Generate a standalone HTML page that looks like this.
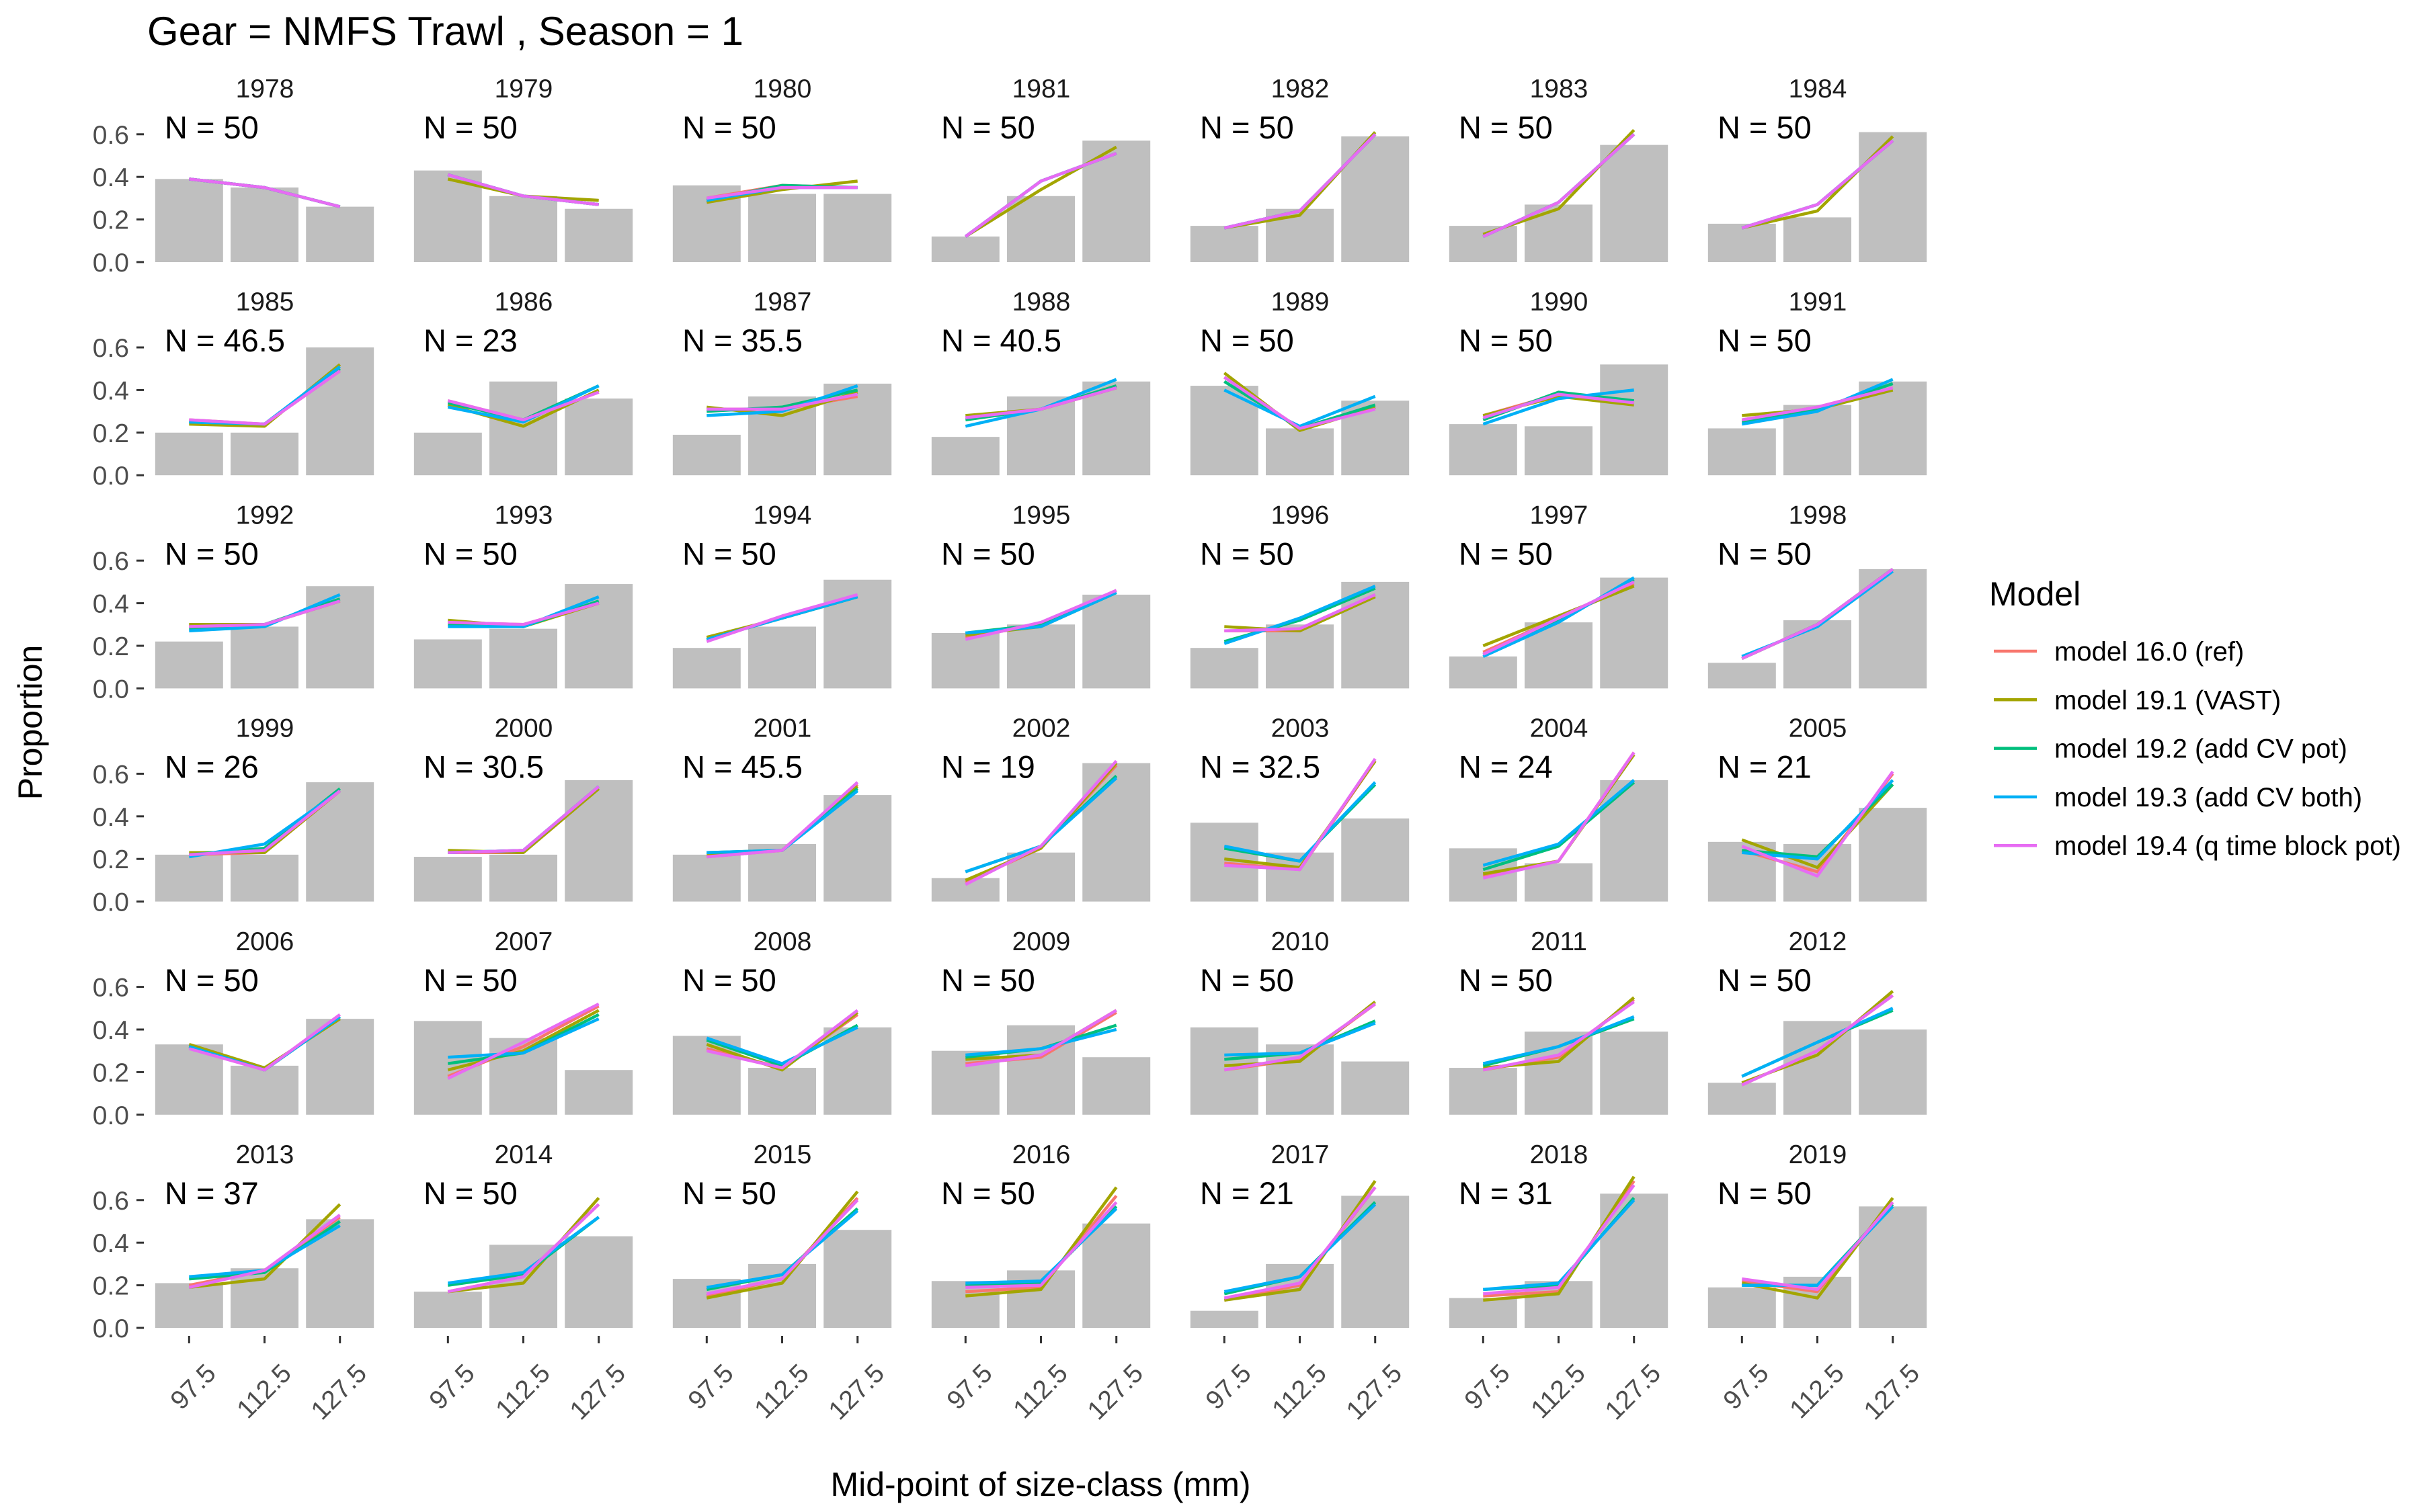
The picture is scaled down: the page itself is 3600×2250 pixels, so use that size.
<!DOCTYPE html>
<html><head><meta charset="utf-8"><style>
html,body{margin:0;padding:0;background:#fff;}
svg{display:block;font-family:"Liberation Sans",Arial,sans-serif;}
</style></head><body>
<svg id="chart" width="3600" height="2250" viewBox="0 0 3600 2250" xmlns="http://www.w3.org/2000/svg">
<rect x="0" y="0" width="3600" height="2250" fill="#fff"/>
<text x="219" y="67" font-size="60" fill="#000">Gear = NMFS Trawl , Season = 1</text>
<text transform="translate(62,1075) rotate(-90)" text-anchor="middle" font-size="50" fill="#000">Proportion</text>
<text x="1548" y="2226" text-anchor="middle" font-size="50" fill="#000">Mid-point of size-class (mm)</text>
<g id="panels"></g>
<g id="legend">
<text x="2959" y="901" font-size="50" fill="#000">Model</text>
</g>
</svg>
<script>
const years = [1978,1979,1980,1981,1982,1983,1984,1985,1986,1987,1988,1989,1990,1991,1992,1993,1994,1995,1996,1997,1998,1999,2000,2001,2002,2003,2004,2005,2006,2007,2008,2009,2010,2011,2012,2013,2014,2015,2016,2017,2018,2019];
const nLabels = ["50","50","50","50","50","50","50","46.5","23","35.5","40.5","50","50","50","50","50","50","50","50","50","50","26","30.5","45.5","19","32.5","24","21","50","50","50","50","50","50","50","37","50","50","50","21","31","50"];
const categories = ["97.5","112.5","127.5"];
const yTicks = [0,0.2,0.4,0.6];
const yTickLabels = ["0.0","0.2","0.4","0.6"];
const modelNames = ["model 16.0 (ref)","model 19.1 (VAST)","model 19.2 (add CV pot)","model 19.3 (add CV both)","model 19.4 (q time block pot)"];
const modelColors = ["#F8766D","#A3A500","#00BF7D","#00B0F6","#E76BF3"];
const observed = [
[.39,.35,.26],[.43,.31,.25],[.36,.32,.32],[.12,.31,.57],[.17,.25,.59],[.17,.27,.55],[.18,.21,.61],
[.20,.20,.60],[.20,.44,.36],[.19,.37,.43],[.18,.37,.44],[.42,.22,.35],[.24,.23,.52],[.22,.33,.44],
[.22,.29,.48],[.23,.28,.49],[.19,.29,.51],[.26,.30,.44],[.19,.30,.50],[.15,.31,.52],[.12,.32,.56],
[.22,.22,.56],[.21,.22,.57],[.22,.27,.50],[.11,.23,.65],[.37,.23,.39],[.25,.18,.57],[.28,.27,.44],
[.33,.23,.45],[.44,.36,.21],[.37,.22,.41],[.30,.42,.27],[.41,.33,.25],[.22,.39,.39],[.15,.44,.40],
[.21,.28,.51],[.17,.39,.43],[.23,.30,.46],[.22,.27,.49],[.08,.30,.62],[.14,.22,.63],[.19,.24,.57]];
const model160 = [
[.39,.35,.26],[.41,.31,.27],[.30,.36,.35],[.12,.38,.51],[.16,.24,.60],[.12,.28,.60],[.16,.27,.57],
[.26,.24,.49],[.35,.26,.39],[.31,.31,.37],[.27,.31,.41],[.46,.22,.32],[.28,.38,.34],[.26,.32,.41],
[.29,.30,.41],[.31,.30,.40],[.23,.33,.43],[.24,.30,.46],[.27,.27,.44],[.17,.33,.49],[.14,.30,.56],
[.22,.23,.52],[.23,.23,.53],[.21,.24,.55],[.09,.25,.64],[.18,.15,.66],[.12,.19,.70],[.24,.14,.60],
[.32,.21,.46],[.18,.32,.51],[.31,.22,.47],[.24,.27,.48],[.21,.26,.52],[.21,.27,.54],[.14,.30,.56],
[.20,.27,.52],[.17,.24,.58],[.15,.23,.61],[.17,.19,.62],[.13,.20,.66],[.15,.17,.69],[.22,.17,.59]];
const model191 = [
[.39,.35,.26],[.39,.31,.29],[.28,.34,.38],[.12,.34,.54],[.16,.22,.61],[.13,.25,.62],[.16,.24,.59],
[.24,.23,.52],[.33,.23,.40],[.32,.28,.39],[.28,.31,.41],[.48,.21,.32],[.28,.37,.33],[.28,.31,.40],
[.30,.30,.41],[.32,.29,.40],[.24,.33,.43],[.25,.29,.45],[.29,.27,.43],[.20,.34,.48],[.14,.30,.56],
[.23,.23,.52],[.24,.23,.53],[.22,.24,.54],[.10,.25,.65],[.20,.16,.66],[.13,.19,.69],[.29,.16,.55],
[.33,.22,.45],[.21,.30,.49],[.33,.21,.48],[.26,.28,.49],[.23,.25,.53],[.22,.25,.55],[.15,.28,.58],
[.19,.23,.58],[.17,.21,.61],[.14,.21,.64],[.15,.18,.66],[.13,.18,.69],[.13,.16,.71],[.21,.14,.61]];
const model192 = [
[.39,.35,.26],[.41,.31,.27],[.29,.36,.35],[.12,.38,.51],[.16,.24,.60],[.12,.28,.60],[.16,.27,.57],
[.25,.24,.50],[.34,.26,.42],[.30,.32,.40],[.26,.31,.42],[.44,.22,.33],[.26,.39,.35],[.25,.31,.43],
[.28,.30,.42],[.30,.29,.41],[.23,.33,.43],[.26,.30,.45],[.22,.32,.47],[.16,.32,.51],[.14,.30,.56],
[.22,.25,.53],[.23,.24,.54],[.23,.24,.53],[.14,.26,.59],[.25,.19,.55],[.15,.26,.56],[.24,.21,.55],
[.32,.21,.46],[.24,.29,.47],[.35,.23,.42],[.27,.31,.42],[.26,.29,.44],[.23,.32,.45],[.18,.34,.49],
[.23,.26,.50],[.20,.25,.52],[.18,.25,.56],[.20,.21,.57],[.16,.24,.59],[.18,.20,.61],[.20,.20,.58]];
const model193 = [
[.39,.35,.26],[.41,.31,.27],[.29,.35,.35],[.12,.38,.51],[.16,.24,.60],[.12,.28,.60],[.16,.27,.57],
[.25,.24,.51],[.32,.25,.42],[.28,.30,.42],[.23,.31,.45],[.40,.23,.37],[.24,.36,.40],[.24,.30,.45],
[.27,.29,.44],[.29,.29,.43],[.23,.33,.43],[.26,.29,.45],[.21,.33,.48],[.15,.31,.52],[.15,.29,.55],
[.21,.27,.52],[.23,.24,.54],[.23,.24,.52],[.14,.26,.58],[.26,.19,.56],[.17,.27,.57],[.23,.20,.57],
[.32,.21,.46],[.27,.29,.45],[.36,.24,.41],[.28,.31,.40],[.28,.29,.43],[.24,.32,.46],[.18,.34,.50],
[.24,.27,.48],[.21,.26,.52],[.19,.25,.55],[.21,.22,.56],[.17,.24,.58],[.18,.21,.60],[.20,.20,.57]];
const model194 = [
[.39,.35,.26],[.41,.31,.27],[.30,.35,.35],[.12,.38,.51],[.16,.24,.60],[.12,.28,.60],[.16,.27,.57],
[.26,.24,.49],[.35,.26,.39],[.31,.31,.38],[.27,.31,.41],[.46,.22,.31],[.27,.38,.34],[.26,.32,.41],
[.29,.30,.41],[.31,.30,.40],[.22,.34,.44],[.23,.31,.46],[.27,.28,.44],[.16,.33,.50],[.14,.30,.56],
[.22,.24,.52],[.23,.24,.54],[.21,.24,.56],[.08,.26,.66],[.17,.15,.67],[.11,.19,.70],[.26,.12,.61],
[.31,.21,.47],[.17,.34,.52],[.30,.22,.49],[.23,.28,.49],[.21,.27,.52],[.21,.28,.53],[.14,.30,.56],
[.19,.27,.53],[.17,.24,.58],[.16,.23,.60],[.19,.20,.59],[.14,.21,.66],[.16,.19,.67],[.23,.18,.59]];
const modelSeries = [model160, model191, model192, model193, model194];

const NS = "http://www.w3.org/2000/svg";
const panelsG = document.getElementById('panels');
const PANEL_LEFT = 214, PANEL_STEP = 385, UNIT = 112.2;
const ROW_ZERO = 390, ROW_STEP = 317.2, Y_UNIT = 317;
function xScale(col, k){ return PANEL_LEFT + col*PANEL_STEP + (k + 0.6)*UNIT; }
function yScale(row, v){ return ROW_ZERO + row*ROW_STEP - v*Y_UNIT; }
function mk(tag, attrs, parent){ const e = document.createElementNS(NS, tag); for (const k in attrs) e.setAttribute(k, attrs[k]); parent.appendChild(e); return e; }

years.forEach((yr, i) => {
  const row = Math.floor(i/7), col = i % 7;
  const g = mk('g', {}, panelsG);
  
  
  const pl = PANEL_LEFT + col*PANEL_STEP;
  const st = mk('text', {x: pl + 180, y: 145 + row*ROW_STEP, 'text-anchor':'middle', 'font-size':39, fill:'#1A1A1A'}, g);
  st.textContent = yr;
  
  
  const nl = mk('text', {x: pl + 31, y: 206 + row*ROW_STEP, 'font-size':47, fill:'#000'}, g);
  nl.textContent = 'N = ' + nLabels[i];
  
  
  if (col === 0) {
    yTicks.forEach((t, j) => {
      const yy = yScale(row, t);
      const tk = mk('line', {x1: 203, x2: 214, y1: yy, y2: yy, stroke:'#333', 'stroke-width':3}, g);
      
      
      const tl = mk('text', {x: 192, y: yy + 14, 'text-anchor':'end', 'font-size':39, fill:'#4D4D4D'}, g);
      tl.textContent = yTickLabels[j];
      
      
    });
  }
  observed[i].forEach((v, k) => {
    const cx = xScale(col, k);
    const b = mk('rect', {x: cx - 0.45*UNIT, y: yScale(row, v), width: 0.9*UNIT, height: v*Y_UNIT, fill:'#BFBFBF'}, g);
    
    
  });
  modelSeries.forEach((ser, m) => {
    const pts = ser[i].map((v, k) => xScale(col, k).toFixed(1) + ',' + yScale(row, v).toFixed(1)).join(' ');
    const pl2 = mk('polyline', {points: pts, fill:'none', stroke: modelColors[m], 'stroke-width':4.5, 'stroke-linejoin':'round'}, g);
    
    
  });
  if (row === 5) {
    categories.forEach((c, k) => {
      const cx = xScale(col, k);
      const tk = mk('line', {x1: cx, x2: cx, y1: 1988, y2: 1999, stroke:'#333', 'stroke-width':3}, g);
      
      
      const tl = mk('text', {transform: 'translate(' + (cx + 42) + ',2046) rotate(-45)', 'text-anchor':'end', 'font-size':39, fill:'#4D4D4D'}, g);
      tl.textContent = c;
      
      
    });
  }
});

const legendG = document.getElementById('legend');
modelNames.forEach((name, m) => {
  const y = 969 + m*72.3;
  const g = mk('g', {}, legendG);
  
  
  const ln = mk('line', {x1: 2966, x2: 3030, y1: y, y2: y, stroke: modelColors[m], 'stroke-width':4.5}, g);
  
  
  const t = mk('text', {x: 3056, y: y + 14, 'font-size':40, fill:'#000'}, g);
  t.textContent = name;
  
  
});
</script>
</body></html>
